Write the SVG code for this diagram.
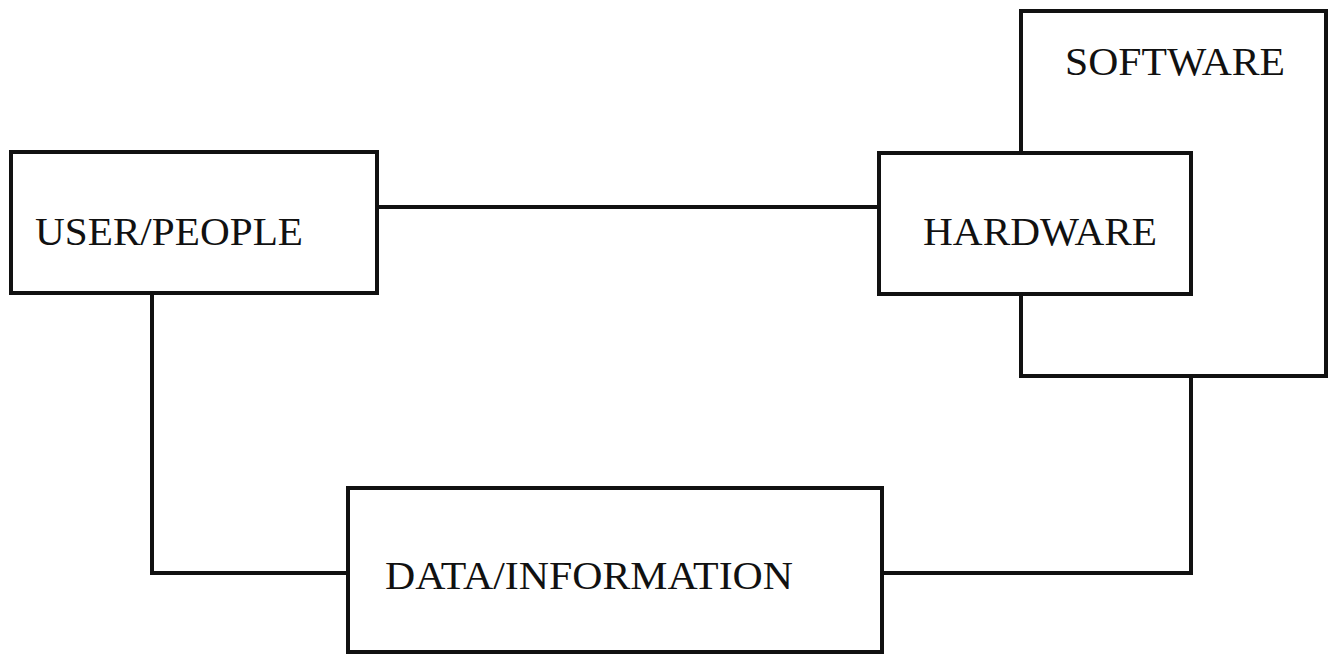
<svg xmlns="http://www.w3.org/2000/svg" width="1328" height="656" viewBox="0 0 1328 656">
<style>
.box{fill:#fff;stroke:#111;stroke-width:4}
.lbl{font-family:"Liberation Serif","Times New Roman",serif;font-size:40px;fill:#111}
.conn{fill:none;stroke:#111;stroke-width:4}
</style>
<rect width="1328" height="656" fill="#fff"/>
<g id="connectors">
<line class="conn" x1="377" y1="207" x2="879" y2="207"/>
<polyline class="conn" points="152,293 152,573 348,573"/>
<polyline class="conn" points="882,573 1191,573 1191,376"/>
</g>
<g id="software">
<rect class="box" x="1021" y="11" width="305" height="365"/>
<text class="lbl" x="1065" y="75" textLength="220" lengthAdjust="spacingAndGlyphs">SOFTWARE</text>
</g>
<g id="hardware">
<rect class="box" x="879" y="153" width="312" height="141"/>
<text class="lbl" x="923" y="245" textLength="234" lengthAdjust="spacingAndGlyphs">HARDWARE</text>
</g>
<g id="user">
<rect class="box" x="11" y="152" width="366" height="141"/>
<text class="lbl" x="35" y="245" textLength="268" lengthAdjust="spacingAndGlyphs">USER/PEOPLE</text>
</g>
<g id="data">
<rect class="box" x="348" y="488" width="534" height="164"/>
<text class="lbl" x="385" y="589" textLength="408" lengthAdjust="spacingAndGlyphs">DATA/INFORMATION</text>
</g>
</svg>
